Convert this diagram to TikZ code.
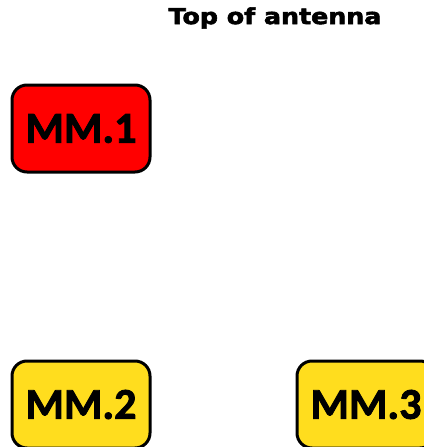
\documentclass[tikz,border=0pt]{standalone}
\usepackage{fontspec}
\newfontfamily\boxfont{Carlito Bold}[FakeBold=2]
\newfontfamily\titlefont{DejaVu Sans Bold}[FakeBold=2.5]
\definecolor{mmred}{RGB}{255,0,0}
\definecolor{mmyellow}{RGB}{255,221,30}
\begin{document}
\begin{tikzpicture}[x=1pt,y=-1pt,
  mmbox/.style={draw=black, line width=3pt, rounded corners=15pt, minimum width=138pt, minimum height=87pt, inner sep=0pt, font=\boxfont\fontsize{44}{44}\selectfont, text=black}]
\useasboundingbox (0,0) rectangle (423,447);
\node (title) at (275,18) {\titlefont\fontsize{22}{22}\selectfont\scalebox{1.15}[1]{Top of antenna}};
\node[mmbox, fill=mmred] (mm1) at (81,128.5) {MM.1};
\node[mmbox, fill=mmyellow] (mm2) at (81,404.5) {MM.2};
\node[mmbox, fill=mmyellow] (mm3) at (366,404.5) {MM.3};
\end{tikzpicture}
\end{document}
